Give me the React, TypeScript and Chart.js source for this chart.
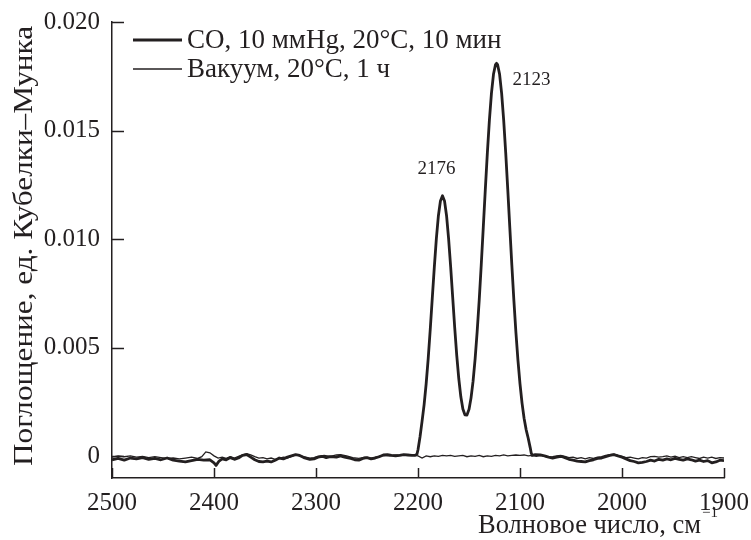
import { useEffect, useRef } from "react";
import { Chart, registerables } from "chart.js";

Chart.register(...registerables);

const INK = "#231f20";
const SERIF = "'Liberation Serif', 'Times New Roman', serif";

// Axis ticks
const xTickValues = [2500, 2400, 2300, 2200, 2100, 2000, 1900];
const yTickValues = [0, 0.005, 0.01, 0.015, 0.02];

// Legend / annotation text
const seriesNames = ["CO, 10 ммHg, 20°C, 10 мин", "Вакуум, 20°C, 1 ч"];
const peakPositions = [2176, 2123];
const yAxisTitle = "Поглощение, ед. Кубелки–Мунка";
const xAxisTitle = "Волновое число, см";
const xAxisUnitPower = "−1";

// CO adsorption spectrum: [wavenumber, Kubelka–Munk absorbance]
const coSpectrum: [number, number][] = [
  [2500, -0.00016], [2494, -0.0001], [2488, -0.00018], [2482, -0.00008], [2476, -0.00012],
  [2470, -0.00006], [2464, -0.00014], [2458, -0.0001], [2452, -0.00016], [2446, -0.00008],
  [2440, -0.00018], [2434, -0.00022], [2428, -0.00026], [2422, -0.0002], [2416, -0.00014],
  [2410, -0.00018], [2404, -0.00016], [2400, -0.0003], [2398, -0.00042], [2395, -0.00022],
  [2392, -0.00012], [2388, -0.00016], [2384, -0.00006], [2380, -0.00014], [2376, -0.00008],
  [2372, 0.00004], [2368, 0.00008], [2364, -0.00004], [2360, -0.00016], [2356, -0.00024],
  [2352, -0.00026], [2348, -0.00022], [2344, -0.00026], [2340, -0.00018], [2336, -0.00008],
  [2332, -0.00012], [2328, -0.00004], [2324, 0.00002], [2320, 0.00008], [2316, 0.00004],
  [2312, -0.00006], [2306, -0.00014], [2302, -0.00012], [2298, -0.00004], [2294, 0],
  [2290, -0.00006], [2286, -0.00002], [2280, -0.00004], [2276, 0.00002], [2272, -0.00004],
  [2266, -0.0001], [2262, -0.00016], [2258, -0.00018], [2254, -0.0001], [2250, -0.00006],
  [2246, -0.00012], [2242, -0.00008], [2238, -0.00002], [2234, 0.00006], [2230, 0.00008],
  [2226, 0.00004], [2222, 0.00002], [2218, 0.00004], [2214, 0.00008], [2210, 0.00006],
  [2206, 0.00004], [2203, 0.00004], [2201, 0.0001], [2200, 0.0003], [2198, 0.0009],
  [2196, 0.00162], [2194, 0.00238], [2192, 0.00334], [2190, 0.0045], [2188, 0.00584],
  [2186, 0.00728], [2184, 0.00871], [2182, 0.01002], [2180, 0.01108], [2178, 0.01176],
  [2176, 0.012], [2174, 0.01176], [2172, 0.01108], [2170, 0.01002], [2168, 0.00874],
  [2166, 0.00733], [2164, 0.00592], [2162, 0.00464], [2160, 0.00357], [2158, 0.00274],
  [2156, 0.00218], [2154, 0.00191], [2152, 0.0019], [2150, 0.00216], [2148, 0.00269],
  [2146, 0.00346], [2144, 0.00449], [2142, 0.00574], [2140, 0.00718], [2138, 0.00881],
  [2136, 0.01054], [2134, 0.01229], [2132, 0.01397], [2130, 0.01548], [2128, 0.01671],
  [2126, 0.01759], [2124, 0.01804], [2123, 0.0181], [2122, 0.01804], [2120, 0.01759],
  [2118, 0.01671], [2116, 0.01548], [2114, 0.01397], [2112, 0.01229], [2110, 0.01054],
  [2108, 0.00881], [2106, 0.00718], [2104, 0.0057], [2102, 0.00442], [2100, 0.00333],
  [2098, 0.00245], [2096, 0.00175], [2094, 0.00123], [2092, 0.00084], [2090, 0.0004],
  [2089, 0.00015], [2088, 0.00004], [2085, 0.00008], [2080, 0.00006], [2076, 0.00002],
  [2072, -0.00004], [2068, -0.00008], [2064, -0.00004], [2060, 0], [2056, -0.00006],
  [2052, -0.00014], [2048, -0.00018], [2044, -0.00022], [2040, -0.00024], [2036, -0.00026],
  [2032, -0.0002], [2028, -0.00016], [2024, -0.0001], [2020, -0.00008], [2016, -0.00002],
  [2012, 0.00004], [2008, 0.00008], [2004, 0.00002], [2000, -0.00004], [1996, -0.00012],
  [1992, -0.0002], [1988, -0.00024], [1984, -0.0003], [1980, -0.00028], [1976, -0.00024],
  [1972, -0.00018], [1968, -0.00022], [1964, -0.00014], [1960, -0.00018], [1956, -0.00012],
  [1952, -0.00016], [1948, -0.0001], [1944, -0.00014], [1940, -0.00018], [1936, -0.00012],
  [1932, -0.00016], [1928, -0.00022], [1924, -0.00018], [1920, -0.00024], [1916, -0.0002],
  [1912, -0.0003], [1908, -0.00026], [1904, -0.00018], [1900, -0.0002],
];

// Spectrum after evacuation: [wavenumber, Kubelka–Munk absorbance]
const vacuumSpectrum: [number, number][] = [
  [2500, -0.00004], [2494, 0.00002], [2488, -0.00002], [2482, 0.00002], [2476, -0.00004],
  [2470, 0], [2464, -0.00006], [2458, -0.00002], [2452, -0.00006], [2446, -0.0001],
  [2440, -0.00008], [2434, -0.00012], [2428, -0.00008], [2422, -0.00004], [2416, -0.0001],
  [2412, -0.00002], [2408, 0.0002], [2404, 0.00016], [2400, 0.00002], [2396, -0.00008],
  [2392, -0.00004], [2388, -0.0001], [2384, -0.00002], [2380, -0.00008], [2376, 0],
  [2372, 0.00006], [2368, 0.00012], [2364, 0.00006], [2360, -0.00002], [2356, -0.00008],
  [2352, -0.00006], [2348, -0.00012], [2344, -0.00008], [2340, -0.00014], [2336, -0.0001],
  [2332, -0.00004], [2328, -0.00008], [2324, 0], [2320, 0.00006], [2316, 0.00002],
  [2312, -0.00002], [2306, -0.00008], [2302, -0.00006], [2298, 0], [2292, 0.00004],
  [2286, 0], [2280, 0.00006], [2276, 0.00008], [2270, 0.00002], [2264, -0.00006],
  [2258, -0.0001], [2252, -0.00004], [2246, -0.00008], [2240, -0.00002], [2234, 0.00004],
  [2228, 0.00002], [2222, 0.00006], [2216, 0.00004], [2210, 0.00006], [2204, 0.00004],
  [2200, 0.00002], [2196, -0.00008], [2192, 0.00002], [2188, -0.00002], [2184, 0.00002],
  [2180, 0], [2176, 0.00004], [2172, 0.00002], [2168, 0.00004], [2164, 0],
  [2160, 0.00002], [2156, 0.00004], [2152, -0.00002], [2148, 0.00002], [2144, 0],
  [2140, 0.00004], [2136, -0.00002], [2132, 0.00002], [2128, 0], [2124, 0.00004],
  [2120, 0.00002], [2116, 0.00006], [2112, 0.00002], [2108, 0.00004], [2104, 0.00006],
  [2100, 0.00004], [2096, 0.00006], [2092, 0.00002], [2088, 0.00004], [2084, 0],
  [2080, 0.00004], [2076, 0], [2072, -0.00004], [2068, -0.00002], [2064, 0.00002],
  [2060, 0.00004], [2056, 0], [2052, -0.00006], [2048, -0.00004], [2044, -0.0001],
  [2040, -0.00006], [2036, -0.00012], [2032, -0.00006], [2028, -0.0001], [2024, -0.00004],
  [2020, -0.00002], [2016, 0.00004], [2012, 0.00008], [2008, 0.0001], [2004, 0.00004],
  [2000, 0], [1996, -0.00006], [1992, -0.00004], [1988, -0.00008], [1984, -0.00012],
  [1980, -0.00006], [1976, -0.00008], [1972, -0.00002], [1968, 0], [1964, -0.00004],
  [1960, -0.00002], [1956, 0.00002], [1952, -0.00004], [1948, 0], [1944, -0.00006],
  [1940, -0.00002], [1936, -0.00006], [1932, -0.00002], [1928, -0.00006], [1924, -0.0001],
  [1920, -0.00004], [1916, -0.00008], [1912, -0.00004], [1908, -0.0001], [1904, -0.00006],
  [1900, -0.00008],
];

const seriesWidths = [2.8, 1.3];

const toPoints = (rows: [number, number][]) => rows.map(([x, y]) => ({ x, y }));

const peakValue = (wn: number) => {
  const row = coSpectrum.find(([x]) => x === wn);
  return row ? row[1] : 0;
};

// Inward tick marks, legend, peak labels and axis titles
const decorations = {
  id: "decorations",
  afterDatasetsDraw(chart: any) {
    const { ctx, chartArea, scales } = chart;
    const xs = scales.x;
    const ys = scales.y;
    ctx.save();
    ctx.strokeStyle = INK;
    ctx.fillStyle = INK;
    ctx.lineWidth = 1.5;
    ctx.lineCap = "butt";

    for (const v of yTickValues) {
      const py = Math.round(ys.getPixelForValue(v)) + 0.5;
      ctx.beginPath();
      ctx.moveTo(chartArea.left, py);
      ctx.lineTo(chartArea.left + 12, py);
      ctx.stroke();
    }
    for (const v of xTickValues) {
      const px = Math.round(xs.getPixelForValue(v)) + 0.5;
      ctx.beginPath();
      ctx.moveTo(px, chartArea.bottom);
      ctx.lineTo(px, chartArea.bottom - 10);
      ctx.stroke();
    }

    // Legend
    ctx.font = `27px ${SERIF}`;
    ctx.textAlign = "left";
    ctx.textBaseline = "middle";
    seriesNames.forEach((name, i) => {
      const ly = 40 + i * 29;
      ctx.lineWidth = seriesWidths[i];
      ctx.beginPath();
      ctx.moveTo(chartArea.left + 21, ly);
      ctx.lineTo(chartArea.left + 70, ly);
      ctx.stroke();
      ctx.fillText(name, chartArea.left + 75, ly + 1);
    });

    // Peak labels
    ctx.font = `19px ${SERIF}`;
    {
      const wn = peakPositions[0];
      const px = xs.getPixelForValue(wn);
      const py = ys.getPixelForValue(peakValue(wn));
      ctx.textAlign = "center";
      ctx.fillText(String(wn), px - 6, py - 27);
    }
    {
      const wn = peakPositions[1];
      const px = xs.getPixelForValue(wn);
      const py = ys.getPixelForValue(peakValue(wn));
      ctx.textAlign = "left";
      ctx.fillText(String(wn), px + 16, py + 17);
    }

    // X axis title with superscript unit power
    ctx.textBaseline = "alphabetic";
    ctx.font = `15px ${SERIF}`;
    const supW = ctx.measureText(xAxisUnitPower).width;
    const titleRight = chartArea.right - 6;
    ctx.textAlign = "right";
    ctx.fillText(xAxisUnitPower, titleRight, 517);
    ctx.font = `26.5px ${SERIF}`;
    ctx.fillText(xAxisTitle, titleRight - supW - 1, 533);

    // Y axis title, stretched along the axis
    ctx.font = `27px ${SERIF}`;
    const titleW = ctx.measureText(yAxisTitle).width;
    const stretch = 440 / titleW;
    ctx.translate(32, 246);
    ctx.rotate(-Math.PI / 2);
    ctx.scale(stretch, 1);
    ctx.textAlign = "center";
    ctx.fillText(yAxisTitle, 0, 0);

    ctx.restore();
  },
};

export default function App() {
  const canvasRef = useRef<HTMLCanvasElement | null>(null);

  useEffect(() => {
    document.body.style.margin = "0";
    const canvas = canvasRef.current;
    if (!canvas) return;

    const chart = new Chart(canvas, {
      type: "line",
      data: {
        datasets: [
          {
            label: seriesNames[0],
            data: toPoints(coSpectrum),
            borderColor: INK,
            borderWidth: seriesWidths[0],
            pointRadius: 0,
            tension: 0,
            fill: false,
            borderJoinStyle: "round",
          },
          {
            label: seriesNames[1],
            data: toPoints(vacuumSpectrum),
            borderColor: INK,
            borderWidth: seriesWidths[1],
            pointRadius: 0,
            tension: 0,
            fill: false,
          },
        ],
      },
      options: {
        animation: false,
        responsive: false,
        events: [],
        layout: { padding: { top: 22, right: 27, left: 0, bottom: 0 } },
        plugins: {
          legend: { display: false },
          tooltip: { enabled: false },
          title: { display: false },
        },
        scales: {
          x: {
            type: "linear",
            reverse: true,
            min: 1900,
            max: 2500,
            afterBuildTicks: (s: any) => {
              s.ticks = xTickValues.map((value) => ({ value }));
            },
            afterFit: (s: any) => {
              s.height = 62;
              s.paddingLeft = 0;
              s.paddingRight = 0;
            },
            grid: { display: false, drawTicks: false },
            border: { display: true, color: INK, width: 1.5 },
            ticks: {
              autoSkip: false,
              maxRotation: 0,
              padding: 10,
              color: INK,
              font: { family: SERIF, size: 25 },
              callback: (v: any) => String(v),
            },
          },
          y: {
            type: "linear",
            min: -0.001,
            max: 0.02,
            afterBuildTicks: (s: any) => {
              s.ticks = yTickValues.map((value) => ({ value }));
            },
            afterFit: (s: any) => {
              s.width = 112;
              s.paddingTop = 0;
              s.paddingBottom = 0;
            },
            grid: { display: false, drawTicks: false },
            border: { display: true, color: INK, width: 1.5 },
            ticks: {
              padding: 12,
              color: INK,
              font: { family: SERIF, size: 25 },
              callback: (v: any) => (v === 0 ? "0" : Number(v).toFixed(3)),
            },
          },
        },
      },
      plugins: [decorations],
    });

    return () => chart.destroy();
  }, []);

  return (
    <div style={{ width: 751, height: 540 }}>
      <canvas ref={canvasRef} width={751} height={540} style={{ display: "block" }} />
    </div>
  );
}
